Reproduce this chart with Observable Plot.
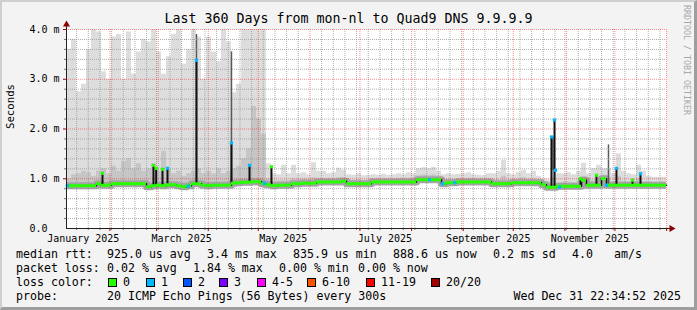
<!DOCTYPE html>
<html><head><meta charset="utf-8">
<script src="https://cdn.jsdelivr.net/npm/d3@7"></script>
<script src="https://cdn.jsdelivr.net/npm/@observablehq/plot@0.6"></script>
<style>
body{margin:0;background:#fff}
#wrap{position:relative;width:697px;height:310px;background:#f3f3f3;overflow:hidden;font-family:"DejaVu Sans Mono",monospace;color:#000}
#border{position:absolute;left:0;top:0;width:697px;height:310px;box-sizing:border-box;border-top:2px solid #cfcfcf;border-left:2px solid #cfcfcf;border-right:3px solid #9e9e9e;border-bottom:3px solid #9e9e9e;pointer-events:none}
#chart{position:absolute;left:0;top:0}
#title{position:absolute;left:0;top:11px;width:697px;text-align:center;font-size:13.3px;line-height:16px;white-space:pre}
.t{position:absolute;white-space:pre;line-height:14px;font-size:11.6px}
.box{position:absolute;width:7px;height:7px;border:1px solid #000}
#credit{position:absolute;left:692px;top:5px;transform-origin:0 0;transform:rotate(90deg);font-size:8.3px;line-height:10px;color:#a8a8a8;white-space:pre}
</style></head>
<body>
<div id="wrap">
  <div id="chart"></div>
  <div id="title"></div>
  <div id="credit"></div>
  <div id="legend"></div>
  <div id="border"></div>
</div>
<script>
// ---------- data ----------
const titleText = "Last 360 Days from mon-nl to Quad9 DNS 9.9.9.9";
const creditText = "RRDTOOL / TOBI OETIKER";
const yAxisLabel = "Seconds";
const startTime = "2025-01-05T22:34:52Z";
const endTime = "2025-12-31T22:34:52Z";
const bucketDays = 3;

// median RTT (ms) per 3-day bucket
const median = [
0.86,0.86,0.86,0.86,0.86,0.86,0.90,0.87,0.87,0.90,
0.90,0.90,0.90,0.90,0.90,0.90,0.84,0.86,0.87,0.86,
0.88,0.88,0.86,0.84,0.86,0.90,0.90,0.87,0.86,0.87,
0.87,0.87,0.87,0.91,0.92,0.93,0.93,0.94,0.94,0.90,
0.88,0.86,0.87,0.87,0.87,0.90,0.90,0.91,0.91,0.91,
0.935,0.935,0.935,0.935,0.935,0.95,0.90,0.90,0.90,0.90,
0.90,0.935,0.935,0.935,0.935,0.935,0.935,0.935,0.935,0.935,
0.98,0.98,0.98,0.98,0.98,0.90,0.92,0.92,0.935,0.935,
0.935,0.935,0.935,0.935,0.935,0.90,0.90,0.90,0.90,0.92,
0.92,0.92,0.92,0.92,0.92,0.88,0.83,0.83,0.85,0.85,
0.85,0.85,0.85,0.97,0.87,0.87,0.87,1.00,0.87,0.87,
0.87,0.87,0.87,0.87,0.87,0.87,0.87,0.87,0.87,0.87];
// highest ping per bucket (light smoke top, ms)
const smokeMax = [
3.6,3.8,2.75,2.9,3.6,4.0,3.95,3.15,3.0,3.85,
3.9,3.0,3.95,3.1,3.55,3.8,3.75,4.0,3.55,3.1,
3.45,3.9,4.0,3.3,3.6,4.0,3.85,3.0,3.85,3.55,
3.35,4.0,3.75,2.73,2.9,4.0,4.0,4.0,4.0,4.0,
1.3,1.1,1.08,1.27,1.1,1.27,1.1,1.12,1.08,1.32,
1.15,1.15,1.1,1.12,1.21,1.17,1.08,1.07,1.1,1.06,
1.07,1.08,1.07,1.09,1.07,1.08,1.1,1.08,1.12,1.1,
1.2,1.22,1.2,1.23,1.15,1.08,1.1,1.08,1.09,1.1,
1.12,1.08,1.07,1.06,1.1,1.1,1.15,1.37,1.1,1.08,
1.12,1.17,1.1,1.15,1.05,1.0,0.98,1.2,1.1,1.1,
1.12,1.08,1.15,1.31,1.1,1.2,1.27,1.2,1.2,1.1,
1.5,1.15,1.1,1.08,1.27,1.15,1.05,1.03,1.03,1.03];
// denser smoke top per bucket (ms)
const smokeMid = [
1.0,1.08,1.1,1.15,1.12,1.05,1.15,1.2,1.1,1.25,
1.15,1.35,1.4,1.2,1.3,1.15,1.2,1.3,1.15,1.55,
1.2,1.1,1.15,1.05,1.1,1.15,1.2,1.1,1.15,1.1,
1.2,1.1,1.15,1.2,1.25,1.4,1.6,2.45,2.2,1.9,
1.0,0.95,0.96,0.97,0.96,1.0,0.99,1.0,0.99,1.02,
1.01,1.0,1.0,1.0,1.02,1.02,0.98,0.97,0.98,0.97,
0.98,1.0,1.0,1.0,1.0,1.0,1.01,1.0,1.01,1.0,
1.06,1.08,1.07,1.08,1.05,0.98,0.99,0.99,1.0,1.0,
1.01,1.0,1.0,1.0,1.0,0.97,0.98,1.05,0.97,0.99,
1.0,1.02,0.99,1.0,0.97,0.94,0.9,1.0,0.92,0.93,
0.93,0.92,0.95,1.05,0.94,0.97,1.0,1.07,0.95,0.94,
1.05,0.95,0.94,0.95,1.0,0.94,0.94,0.93,0.93,0.93];
// lowest ping per bucket (ms)
const smokeLo = [
0.80,0.80,0.80,0.80,0.80,0.80,0.82,0.81,0.81,0.83,
0.83,0.83,0.83,0.83,0.83,0.83,0.78,0.80,0.81,0.80,
0.81,0.81,0.80,0.78,0.80,0.83,0.83,0.81,0.80,0.81,
0.81,0.81,0.81,0.84,0.85,0.86,0.86,0.86,0.86,0.83,
0.82,0.80,0.81,0.81,0.81,0.84,0.84,0.85,0.85,0.85,
0.87,0.87,0.87,0.87,0.87,0.88,0.84,0.84,0.84,0.84,
0.84,0.87,0.87,0.87,0.87,0.87,0.87,0.87,0.87,0.87,
0.91,0.91,0.91,0.91,0.91,0.84,0.86,0.86,0.87,0.87,
0.87,0.87,0.87,0.87,0.87,0.84,0.84,0.84,0.84,0.86,
0.86,0.86,0.86,0.86,0.86,0.82,0.78,0.78,0.80,0.80,
0.80,0.80,0.80,0.86,0.81,0.81,0.81,0.85,0.81,0.81,
0.81,0.81,0.81,0.81,0.81,0.81,0.81,0.81,0.81,0.81];

// short median spikes
const spikeDates = ["2025-01-27T13:00Z","2025-02-27T03:00Z","2025-02-28T18:00Z","2025-03-04T13:00Z","2025-03-07T13:00Z","2025-03-24T22:00Z","2025-04-14T22:00Z","2025-04-25T18:00Z","2025-05-08T22:00Z","2025-10-23T22:00Z","2025-10-25T18:00Z","2025-11-10T08:00Z","2025-11-19T22:00Z","2025-12-01T22:00Z","2025-12-11T13:00Z","2025-12-16T08:00Z"];
const spikeBase = [0.87,0.86,0.86,0.87,0.86,0.90,0.91,0.93,0.88,0.83,0.83,0.85,0.87,0.87,0.87,0.87];
const spikeTop  = [1.11,1.27,1.21,1.19,1.21,3.38,1.72,1.27,1.24,1.84,2.18,1.00,1.07,1.21,0.97,1.10];
const spikeLoss = [0,0,0,0,1,1,1,1,0,1,1,0,0,1,0,1];
// dark narrow smoke columns
const darkDates = ["2025-03-24T22:00Z","2025-04-14T22:00Z","2025-10-24T20:00Z","2025-11-27T03:00Z"];
const darkLow  = [0.90,0.91,1.17,0.87];
const darkHigh = [3.90,3.55,1.84,1.68];
// isolated loss marks on the median
const lossDotDates = ["2025-01-06T12:00Z","2025-03-20T03:00Z","2025-05-04T18:00Z","2025-08-11T18:00Z","2025-08-19T13:00Z","2025-08-26T18:00Z","2025-10-26T08:00Z","2025-10-28T18:00Z","2025-11-25T22:00Z"];
const lossDotValues = [0.86,0.85,0.91,0.98,0.90,0.92,1.17,0.83,0.87];
const lossDotLoss = [1,1,1,1,1,1,1,1,1];

// axes
const xTickDates = ["2025-01-16","2025-03-16","2025-05-16","2025-07-16","2025-09-16","2025-11-16"];
const xTickLabels = ["January 2025","March 2025","May 2025","July 2025","September 2025","November 2025"];
const yTicks = [0,1,2,3,4];
const yTickLabels = ["0.0","1.0 m","2.0 m","3.0 m","4.0 m"];

// legend
const lossLabels = ["0","1","2","3","4-5","6-10","11-19","20/20"];
const lossColors = ["#26ff00","#00b8ff","#0059ff","#7e00ff","#ff00ff","#ff5500","#ff0000","#a10000"];
const rttRow = ["median rtt:","925.0 us avg","3.4 ms max","835.9 us min","888.6 us now","0.2 ms sd","4.0","am/s"];
const lossRow = ["packet loss:","0.02 % avg","1.84 % max","0.00 % min","0.00 % now"];
const probeRow = ["probe:","20 ICMP Echo Pings (56 Bytes) every 300s","Wed Dec 31 22:34:52 2025"];

// ---------- build ----------
const DAY = 864e5;
const start = new Date(startTime), end = new Date(endTime);
const buckets = median.map((m, i) => ({
  date: new Date(+start + i * bucketDays * DAY),
  next: new Date(+start + (i + 1) * bucketDays * DAY),
  median: m, lo: smokeLo[i], mid: smokeMid[i], max: smokeMax[i]
}));
const last = buckets[buckets.length - 1];
const stepData = buckets.concat([{...last, date: last.next}]);
function lossIdx(n){ return n<=3 ? n : n<=5 ? 4 : n<=10 ? 5 : n<=19 ? 6 : 7; }
const spikes = spikeDates.map((d,i)=>({date:new Date(d), base:spikeBase[i], top:spikeTop[i], loss:spikeLoss[i]}));
const darks = darkDates.map((d,i)=>({date:new Date(d), lo:darkLow[i], hi:darkHigh[i]}));
const lossDots = lossDotDates.map((d,i)=>({date:new Date(d), v:lossDotValues[i], loss:lossDotLoss[i]}));

const minorY = d3.range(1,20).filter(k=>k%5!==0).map(k=>k/5);
const majorY = [1,2,3,4];
const majorX = d3.utcMonth.range(start, new Date(Date.UTC(2026,0,2)));
const majorSet = new Set(majorX.map(d=>+d));
const minorX = d3.utcSunday.range(start, end).filter(d=>!majorSet.has(+d));

const gridGray = {stroke:"#999999", strokeOpacity:0.8, strokeDasharray:"1,1"};
const gridRed = {stroke:"#ff0000", strokeOpacity:0.45, strokeDasharray:"1,1"};

const chart = Plot.plot({
  width: 697, height: 310,
  marginLeft: 66, marginRight: 31, marginTop: 29, marginBottom: 82,
  style: {background:"transparent", fontFamily:"'DejaVu Sans Mono', monospace", fontSize:"10px", overflow:"visible", color:"#000"},
  x: {type:"utc", domain:[start, end], axis:null},
  y: {domain:[0,4], axis:null},
  marks: [
    Plot.frame({fill:"#ffffff", stroke:null}),
    Plot.areaY(stepData, {x:"date", y1:"lo", y2:"max", curve:"step-after", fill:"#dddddd", clip:true}),
    Plot.areaY(stepData, {x:"date", y1:"lo", y2:"mid", curve:"step-after", fill:"#c6c6c6", clip:true}),
    Plot.line(stepData, {x:"date", y:"median", curve:"step-after", stroke:"#a4a4a4", strokeWidth:7, clip:true}),
    Plot.ruleX(darks, {x:"date", y1:"lo", y2:"hi", stroke:"#5a5a5a", strokeWidth:1.5}),
    Plot.ruleY(minorY, gridGray),
    Plot.ruleX(minorX, gridGray),
    Plot.ruleY(majorY, gridRed),
    Plot.ruleX(majorX, gridRed),
    // axis ticks
    Plot.ruleY(minorY, {x1:()=>start, x2:()=>start, insetLeft:-2, stroke:"#777"}),
    Plot.ruleY(majorY, {x1:()=>start, x2:()=>start, insetLeft:-3, stroke:"#a00"}),
    Plot.ruleX(minorX, {y1:0, y2:0, insetBottom:-2, stroke:"#777"}),
    Plot.ruleX(majorX, {y1:0, y2:0, insetBottom:-3, stroke:"#a00"}),
    // median
    Plot.line(stepData, {x:"date", y:"median", curve:"step-after", stroke:"#111", strokeWidth:1.5}),
    Plot.ruleX(spikes, {x:"date", y1:"base", y2:"top", stroke:"#111", strokeWidth:2}),
    Plot.ruleY(buckets, {x1:"date", x2:"next", y:"median", stroke:lossColors[0], strokeWidth:3}),
    Plot.dot(spikes, {x:"date", y:"top", symbol:"square", r:1.8, fill:d=>lossColors[lossIdx(d.loss)], stroke:null}),
    Plot.dot(lossDots, {x:"date", y:"v", symbol:"square", r:1.8, fill:d=>lossColors[lossIdx(d.loss)], stroke:null}),
    // axes lines and arrows
    Plot.ruleY([0], {stroke:"#222", insetRight:-5}),
    Plot.ruleX([start], {stroke:"#222", insetTop:-5}),
    Plot.dot([end], {x:d=>d, y:0, symbol:"triangle", rotate:90, r:2.6, fill:"#8b0000", stroke:null, dx:5}),
    Plot.dot([start], {x:d=>d, y:4, symbol:"triangle", r:2.6, fill:"#8b0000", stroke:null, dy:-5}),
    // tick labels
    Plot.text(xTickDates.map((d,i)=>({d:new Date(d+"T00:00Z"), label:xTickLabels[i]})), {x:"d", y:()=>0, text:"label", dy:10, fill:"#000", fontSize:10}),
    Plot.text(yTicks.map((v,i)=>({v, label:yTickLabels[i]})), {frameAnchor:"left", y:"v", text:"label", textAnchor:"start", dx:-37, fill:"#000", fontSize:10}),
    Plot.text([yAxisLabel], {frameAnchor:"left", dx:-56, rotate:-90, fill:"#000", fontSize:10.7})
  ]
});
document.getElementById("chart").appendChild(chart);
document.getElementById("title").textContent = titleText;
document.getElementById("credit").textContent = creditText;

// legend text
const legend = document.getElementById("legend");
function put(x, yc, txt){
  const s = document.createElement("div"); s.className="t";
  s.style.left = x+"px"; s.style.top = (yc-7)+"px"; s.textContent = txt; legend.appendChild(s);
}
const rttX = [16,107,207,293,393,493,572,614];
rttRow.forEach((t,i)=>put(rttX[i],254,t));
const lossX = [16,107,193,279,358];
lossRow.forEach((t,i)=>put(lossX[i],268,t));
put(16,282,"loss color:");
const boxX = [108,146,183,219,257,307,366,431];
lossLabels.forEach((t,i)=>{
  const b = document.createElement("div"); b.className="box";
  b.style.left = boxX[i]+"px"; b.style.top = "278px"; b.style.background = lossColors[i];
  legend.appendChild(b);
  put(boxX[i]+15,282,t);
});
put(16,296,probeRow[0]);
put(107,296,probeRow[1]);
const r = document.createElement("div"); r.className="t";
r.style.right = (697-681)+"px"; r.style.top = "289px"; r.textContent = probeRow[2]; legend.appendChild(r);
</script>
</body></html>
